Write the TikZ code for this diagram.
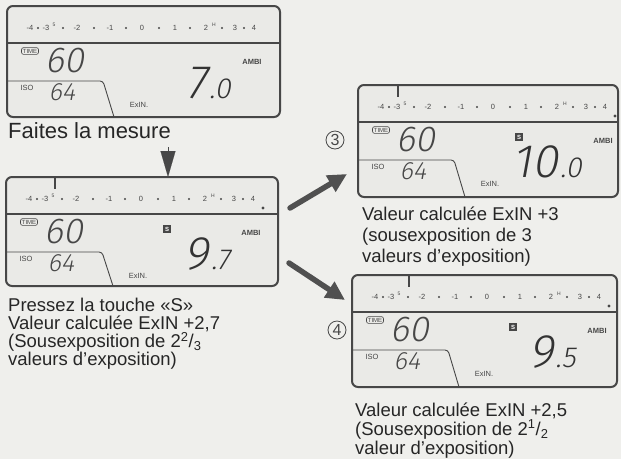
\documentclass[tikz,border=0pt]{standalone}
\usepackage{fontspec}
\setmainfont{Liberation Sans}
\newfontfamily\lcdfont{Fira Sans Light}[FakeSlant=0.18]
\usetikzlibrary{arrows.meta}
\definecolor{paper}{HTML}{EFEFEC}
\definecolor{lcdbg}{HTML}{EAEAE7}
\definecolor{ink}{HTML}{474747}

\begin{document}
\begin{tikzpicture}[x=1pt,y=1pt,
  frame/.style={draw=ink,line width=2pt,rounded corners=6pt,fill=lcdbg,inner sep=0pt,outer sep=0pt},
  tiny/.style={font=\fontsize{7.5}{7.5}\selectfont,text=ink,inner sep=0pt},
  sbox/.style={fill=ink,text=white,font=\fontsize{6}{6}\selectfont\bfseries,inner sep=0pt,minimum size=8pt},
  timebox/.style={tiny,draw=ink,line width=.6pt,rounded corners=2pt,inner sep=1.3pt,font=\fontsize{6}{6}\selectfont},
  caption/.style={anchor=base west,align=left,inner sep=0pt,text=black!85},
  fat/.style={draw=ink!95,line width=5.5pt,line cap=round,-{Triangle[length=19pt,width=18pt]}}]
\fill[paper] (0,0) rectangle (621,-459);
\useasboundingbox (0,0) rectangle (621,-459);

% the four displays
\foreach \n/\px/\py/\w/\h/\ptr/\rd/\rdd in {1/7/6/273/111/0/7/.0,2/6/177/272/109/49/9/.7,3/358/85/260/112/40/10/.0,4/352/275/265/112/57/9/.5}{
\begin{scope}[shift={(\px,-\py)}]
\node[frame,minimum width=\w,minimum height=\h,anchor=north west] (p\n) at (0,0) {};
\draw[ink,line width=1.2pt] (0,-37)--(\w,-37);
\draw[ink,line width=.9pt,rounded corners=3pt] (0,-75)--(96,-75)--(107,-\h);
\foreach \x/\t in {23/-4,39/-3,70/-2,103/-1,135/0,168/1,199/2,228/3,247/4}{\node[tiny] (sc\n\x) at (\x,-22){\t};}
\foreach \x in {31,56,87,119,152,183,215,237}{\fill[ink] (\x,-22) circle (1.2pt);}
\node[tiny,font=\fontsize{5}{5}\selectfont] (five\n) at (47,-19){5};
\node[tiny,font=\fontsize{5}{5}\selectfont] (hh\n) at (207,-19){H};
\ifnum\ptr>0 \draw[ink,line width=2.4pt] (\ptr,0)--(\ptr,-12);\fill[ink] (257,-31) circle (1.6pt);
\node[sbox] (s\n) at (161,-52){S};\fi
\node[timebox] (time\n) at (23,-45){TIME};
\node[anchor=base,inner sep=0pt,text=ink] (tv\n) at (58,-66){\lcdfont\fontsize{36}{36}\selectfont 60};
\node[tiny] (iso\n) at (20,-82){ISO};
\node[anchor=base,inner sep=0pt,text=ink] (iv\n) at (55,-94){\lcdfont\fontsize{25}{25}\selectfont 64};
\node[tiny] (exin\n) at (132,-99){ExIN.};
\node[tiny,font=\fontsize{7.5}{7.5}\selectfont\bfseries] (ambi\n) at (245,-56){AMBI};
\node[anchor=base east,inner sep=0pt,text=black!80] (rd\n) at (224,-92){\lcdfont\fontsize{47}{47}\selectfont\rd\kern2pt\fontsize{29}{29}\selectfont\rdd};
\end{scope}}

\node[caption,font=\fontsize{22}{22}\selectfont] (mes) at (8,-138){Faites la mesure};
\coordinate (tr) at (168,-147);
\draw[ink,line width=.1pt,-{Triangle[length=26pt,width=15pt]}] (tr)--(tr |- p2.north);

% captions: base = last line
\node[caption,font=\fontsize{18.5}{17.7}\selectfont] (t2) at (8,-365){Pressez la touche «S»\\Valeur calculée ExIN +2,7\\(Sousexposition de 2\textsuperscript{2}/\textsubscript{3}\\valeurs d’exposition)};
\node[caption,font=\fontsize{18.5}{21}\selectfont] (t3) at (362,-262){Valeur calculée ExIN +3\\(sousexposition de 3\\valeurs d’exposition)};
\node[caption,font=\fontsize{18.5}{19}\selectfont] (t4) at (355,-454){Valeur calculée ExIN +2,5\\(Sousexposition de 2\textsuperscript{1}/\textsubscript{2}\\valeur d’exposition)};

\node[draw=ink,circle,line width=.8pt,minimum size=18pt,inner sep=0pt,font=\fontsize{16}{16}\selectfont,text=ink] (c3) at (335,-140){3};
\node[draw=ink,circle,line width=.8pt,minimum size=18pt,inner sep=0pt,font=\fontsize{16}{16}\selectfont,text=ink] (c4) at (337,-330){4};

\coordinate (a3s) at (290,-208);\coordinate (a3e) at (347,-174);
\coordinate (a4s) at (289,-263);\coordinate (a4e) at (345,-300);
\draw[fat] (a3s)--(a3e);
\draw[fat] (a4s)--(a4e);
\end{tikzpicture}
\end{document}
